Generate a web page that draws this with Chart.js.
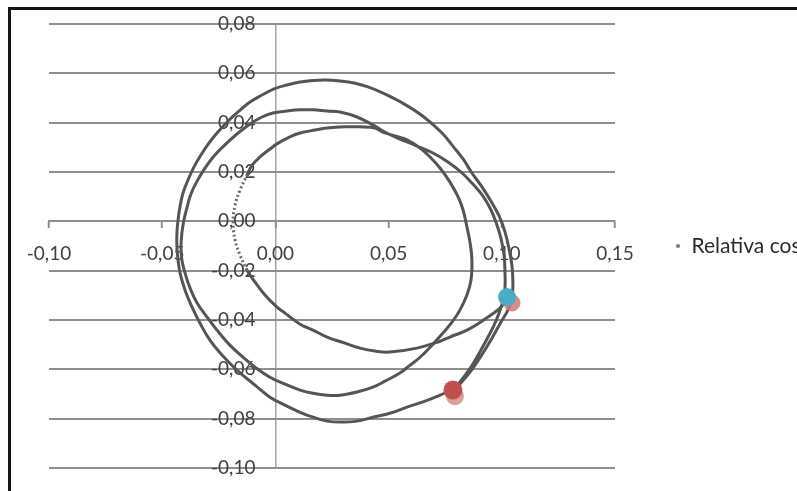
<!DOCTYPE html>
<html>
<head>
<meta charset="utf-8">
<script src="https://cdn.jsdelivr.net/npm/chart.js@4/dist/chart.umd.min.js"></script>
<style>
  html, body { margin: 0; padding: 0; background: #fff; overflow: hidden; }
  #frame { position: absolute; left: 8px; top: 7px; width: 900px; height: 600px; border: 3px solid #161616; }
  #orbit { position: absolute; left: 0; top: 0; }
</style>
</head>
<body>
<div id="frame"></div>
<canvas id="orbit" width="797" height="491"></canvas>
<script>
// relative position track (x, y), in order along the path
const relX = [
  0.1023, 0.0992, 0.0926, 0.0846, 0.0771, 0.0727, 0.0625, 0.0506, 0.0440, 0.0374,
  0.0307, 0.0228, 0.0166, 0.0109, 0.0042, 0.0007, -0.0046, -0.0090, -0.0125, -0.0156,
  -0.0178, -0.0187, -0.0178, -0.0156, -0.0125, -0.0103, -0.0068, -0.0024, 0.0007, 0.0064,
  0.0109, 0.0175, 0.0228, 0.0307, 0.0374, 0.0440, 0.0475, 0.0528, 0.0581, 0.0639,
  0.0683, 0.0727, 0.0771, 0.0807, 0.0829, 0.0846, 0.0860, 0.0868, 0.0864, 0.0846,
  0.0815, 0.0780, 0.0740, 0.0692, 0.0639, 0.0595, 0.0550, 0.0484, 0.0431, 0.0360,
  0.0285, 0.0228, 0.0166, 0.0109, 0.0042, -0.0024, -0.0090, -0.0143, -0.0201, -0.0258,
  -0.0302, -0.0346, -0.0377, -0.0399, -0.0413, -0.0417, -0.0413, -0.0404, -0.0390, -0.0373,
  -0.0346, -0.0311, -0.0271, -0.0223, -0.0170, -0.0112, -0.0059, -0.0011, 0.0051,
  0.0109, 0.0166, 0.0228, 0.0285, 0.0360, 0.0431, 0.0475, 0.0528, 0.0581, 0.0625,
  0.0696, 0.0762, 0.0820, 0.0868, 0.0913, 0.0948, 0.0974, 0.0996, 0.1010, 0.1014,
  0.1014, 0.1005, 0.0988, 0.0966, 0.0939, 0.0908, 0.0877, 0.0842, 0.0811, 0.0793,
  0.0758, 0.0727, 0.0661, 0.0581, 0.0506, 0.0431, 0.0360, 0.0285, 0.0228, 0.0166,
  0.0109, 0.0042, -0.0024, -0.0090, -0.0170, -0.0236, -0.0289, -0.0333, -0.0368, -0.0399,
  -0.0421, -0.0430, -0.0435, -0.0435, -0.0430, -0.0421, -0.0408, -0.0386, -0.0360, -0.0329,
  -0.0293, -0.0254, -0.0209, -0.0161, -0.0112, -0.0059, -0.0006, 0.0051, 0.0109, 0.0166,
  0.0224, 0.0285, 0.0347, 0.0409, 0.0475, 0.0568, 0.0656, 0.0736, 0.0784, 0.0829,
  0.0868, 0.0913, 0.0952, 0.0988, 0.1014, 0.1032, 0.1045, 0.1049, 0.1045, 0.1027,
  0.0996, 0.0957, 0.0917, 0.0873, 0.0837, 0.0807
];
const relY = [
  -0.0315, -0.0352, -0.0396, -0.0441, -0.0469, -0.0486, -0.0514, -0.0530, -0.0526, -0.0514,
  -0.0494, -0.0469, -0.0441, -0.0417, -0.0372, -0.0348, -0.0299, -0.0246, -0.0198, -0.0137,
  -0.0076, -0.0003, 0.0066, 0.0127, 0.0188, 0.0228, 0.0261, 0.0293, 0.0314, 0.0342,
  0.0358, 0.0370, 0.0378, 0.0383, 0.0383, 0.0378, 0.0362, 0.0346, 0.0330, 0.0297,
  0.0261, 0.0216, 0.0159, 0.0099, 0.0046, -0.0023, -0.0088, -0.0157, -0.0238, -0.0299,
  -0.0360, -0.0409, -0.0453, -0.0502, -0.0551, -0.0583, -0.0615, -0.0648, -0.0672, -0.0692,
  -0.0705, -0.0705, -0.0697, -0.0684, -0.0660, -0.0632, -0.0591, -0.0551, -0.0502, -0.0441,
  -0.0388, -0.0331, -0.0271, -0.0210, -0.0157, -0.0104, -0.0047, 0.0005, 0.0058, 0.0111,
  0.0163, 0.0216, 0.0265, 0.0310, 0.0354, 0.0395, 0.0423, 0.0439, 0.0447,
  0.0452, 0.0452, 0.0447, 0.0443, 0.0423, 0.0391, 0.0366, 0.0342, 0.0322, 0.0305,
  0.0277, 0.0241, 0.0200, 0.0155, 0.0107, 0.0054, -0.0003, -0.0068, -0.0137, -0.0206,
  -0.0271, -0.0323, -0.0372, -0.0421, -0.0469, -0.0522, -0.0571, -0.0619, -0.0656, -0.0676,
  -0.0692, -0.0705, -0.0729, -0.0753, -0.0778, -0.0794, -0.0810, -0.0814, -0.0810, -0.0794,
  -0.0774, -0.0745, -0.0713, -0.0664, -0.0603, -0.0542, -0.0482, -0.0413, -0.0348, -0.0279,
  -0.0210, -0.0157, -0.0104, -0.0047, 0.0005, 0.0062, 0.0115, 0.0168, 0.0220, 0.0269,
  0.0318, 0.0362, 0.0407, 0.0447, 0.0484, 0.0512, 0.0537, 0.0553, 0.0565, 0.0571,
  0.0573, 0.0569, 0.0561, 0.0545, 0.0520, 0.0476, 0.0423, 0.0358, 0.0305, 0.0253,
  0.0196, 0.0139, 0.0082, 0.0022, -0.0043, -0.0112, -0.0181, -0.0250, -0.0311, -0.0360,
  -0.0409, -0.0473, -0.0534, -0.0595, -0.0636, -0.0668
];
// stretch of the track where the samples are far apart
const sparseFrom = 18;
const sparseTo = 24;

// single marked positions [x, y]
const blueDot = [0.1023, -0.0307];
const blueShade = [0.1045, -0.0331];
const redDot = [0.0784, -0.0684];
const redShade = [0.0793, -0.0709];

const seriesName = 'Relativa cos';

const xTicks = [-0.10, -0.05, 0.00, 0.05, 0.10, 0.15];
const yTicks = [-0.10, -0.08, -0.06, -0.04, -0.02, 0.00, 0.02, 0.04, 0.06, 0.08];

const track = relX.map((x, i) => ({ x: x, y: relY[i] }));
const fmt = v => (Math.abs(v) < 1e-9 ? 0 : v).toFixed(2).replace('.', ',');
const gridGray = '#8f8f8f';
const tickFont = { family: 'Lato', size: 19 };
// y labels hang a little to the left of the zero line
const yLabelAt = -0.0088;
const inSparse = c => c.p0DataIndex >= sparseFrom && c.p1DataIndex <= sparseTo;

function dot(p, color, r) {
  return {
    data: [{ x: p[0], y: p[1] }],
    showLine: false,
    pointRadius: r,
    pointBackgroundColor: color,
    pointBorderWidth: 0,
    pointHoverRadius: r
  };
}

new Chart(document.getElementById('orbit'), {
  type: 'scatter',
  data: {
    datasets: [
      dot(blueDot, '#4bacc6', 9),
      dot(redDot, '#c0504d', 9.5),
      dot(blueShade, 'rgba(205,120,120,0.85)', 8.5),
      dot(redShade, 'rgba(215,150,140,0.9)', 9),
      {
        label: seriesName,
        data: track,
        showLine: true,
        borderColor: '#555555',
        borderWidth: 3,
        tension: 0.4,
        pointRadius: 0,
        pointBackgroundColor: '#7f7f7f',
        pointBorderWidth: 0,
        segment: {
          borderDash: c => inSparse(c) ? [2, 2.5] : undefined,
          borderColor: c => inSparse(c) ? '#6a6a6a' : undefined
        }
      }
    ]
  },
  options: {
    responsive: false,
    animation: false,
    layout: { padding: { left: 49, top: 24, right: 0, bottom: 23 } },
    scales: {
      x: {
        type: 'linear',
        position: { y: 0 },
        min: -0.10,
        max: 0.15,
        afterBuildTicks: s => { s.ticks = xTicks.map(v => ({ value: v })); },
        grid: {
          drawOnChartArea: true,
          color: c => (c.tick && c.tick.value === 0) ? '#a3a3a3' : 'rgba(0,0,0,0)',
          lineWidth: 1.5,
          drawTicks: true,
          tickLength: 6,
          tickColor: gridGray,
          tickWidth: 2
        },
        border: { display: true, color: gridGray, width: 2 },
        ticks: { callback: fmt, font: tickFont, color: '#404040', padding: 15, maxRotation: 0, autoSkip: false }
      },
      y: {
        type: 'linear',
        position: { x: yLabelAt },
        min: -0.10,
        max: 0.08,
        afterBuildTicks: s => { s.ticks = yTicks.map(v => ({ value: v })); },
        grid: { drawOnChartArea: true, drawTicks: false, color: gridGray, lineWidth: 2 },
        border: { display: false },
        ticks: { callback: fmt, font: tickFont, color: '#404040', autoSkip: false }
      }
    },
    plugins: {
      tooltip: { enabled: false },
      legend: {
        position: 'right',
        align: 'center',
        maxWidth: 182,
        labels: {
          usePointStyle: true,
          pointStyle: 'circle',
          boxWidth: 6,
          boxHeight: 3,
          padding: 60,
          color: '#2a2a2a',
          font: { family: 'Lato', size: 21 },
          filter: item => item.text === seriesName
        }
      }
    }
  }
});
</script>
</body>
</html>
